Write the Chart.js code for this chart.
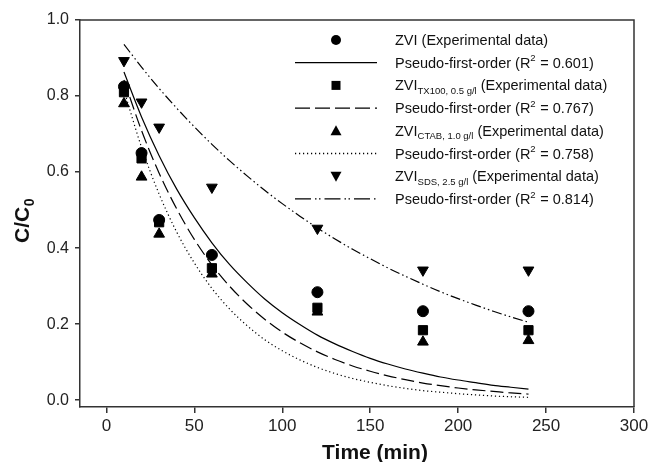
<!DOCTYPE html>
<html><head><meta charset="utf-8">
<script src="https://cdn.jsdelivr.net/npm/chart.js@4.4.1/dist/chart.umd.min.js"></script>
<style>html,body{margin:0;padding:0;background:#fff}#wrap{width:656px;height:462px;position:relative}</style>
</head><body><div id="wrap"><canvas id="c" width="656" height="462"></canvas></div>
<script>
// ---- data ----
const times = [10, 20, 30, 60, 120, 180, 240];
const zvi      = [0.825, 0.650, 0.474, 0.382, 0.284, 0.234, 0.234];
const zviTX100 = [0.810, 0.636, 0.468, 0.347, 0.243, 0.184, 0.184];
const zviCTAB  = [0.780, 0.587, 0.437, 0.332, 0.232, 0.153, 0.157];
const zviSDS   = [0.893, 0.784, 0.718, 0.560, 0.452, 0.342, 0.342];

const fitTimes = [10,20,30,40,50,60,70,80,90,100,110,120,130,140,150,160,170,180,190,200,210,220,230,240];
const fitZVI   = [0.863,0.745,0.643,0.555,0.480,0.414,0.357,0.309,0.266,0.230,0.199,0.171,0.148,0.128,0.110,0.095,0.082,0.071,0.061,0.053,0.046,0.039,0.034,0.029];
const fitTX100 = [0.842,0.709,0.597,0.503,0.423,0.356,0.300,0.253,0.213,0.179,0.151,0.127,0.107,0.090,0.076,0.064,0.054,0.045,0.038,0.032,0.027,0.023,0.019,0.016];
const fitCTAB  = [0.815,0.665,0.542,0.442,0.361,0.294,0.240,0.196,0.159,0.130,0.106,0.086,0.070,0.057,0.047,0.038,0.031,0.025,0.021,0.017,0.014,0.011,0.009,0.0075];
const fitSDS   = [0.936,0.876,0.820,0.768,0.719,0.673,0.630,0.590,0.552,0.517,0.484,0.453,0.424,0.397,0.372,0.348,0.326,0.305,0.285,0.267,0.250,0.234,0.219,0.205];

const xTicks = [0, 50, 100, 150, 200, 250, 300];
const yTicks = [0.0, 0.2, 0.4, 0.6, 0.8, 1.0];

const xTitle = 'Time (min)';
const yTitleMain = 'C/C';
const yTitleSub = '0';

// legend rows: rich text parts
const legendRows = [
  {mark:'circle', parts:[['ZVI (Experimental data)','n']]},
  {line:'solid',  parts:[['Pseudo-first-order (R','n'],['2','sup'],[' = 0.601)','n']]},
  {mark:'square', parts:[['ZVI','n'],['TX100, 0.5 g/l','sub'],[' (Experimental data)','n']]},
  {line:'dash',   parts:[['Pseudo-first-order (R','n'],['2','sup'],[' = 0.767)','n']]},
  {mark:'tri',    parts:[['ZVI','n'],['CTAB, 1.0 g/l','sub'],[' (Experimental data)','n']]},
  {line:'dot',    parts:[['Pseudo-first-order (R','n'],['2','sup'],[' = 0.758)','n']]},
  {mark:'tridown',parts:[['ZVI','n'],['SDS, 2.5 g/l','sub'],[' (Experimental data)','n']]},
  {line:'dashdot',parts:[['Pseudo-first-order (R','n'],['2','sup'],[' = 0.814)','n']]}
];

const FONT = "'Liberation Sans', Arial, Helvetica, sans-serif";
const INK = '#111';
const AXIS = '#333';

const pts = (xs, ys) => xs.map((x, i) => ({x: x, y: ys[i]}));

const DASH = {solid: [], dash: [13, 5], dot: [1.2, 2.8], dashdot: [10, 3, 1.5, 3, 1.5, 3]};
const LEG_DASH = {solid: [], dash: [15, 5], dot: [1.2, 2.8], dashdot: [16, 4, 1.5, 2.5, 1.5, 4]};

function scatterDs(label, ys, style, rot) {
  return {type:'scatter', label, data: pts(times, ys), showLine:false,
    pointStyle: style, pointRotation: rot || 0,
    pointRadius: style === 'circle' ? 5.5 : (style === 'rect' ? 6.5 : 6.2),
    pointBackgroundColor:'#000', pointBorderColor:'#000', pointBorderWidth:1, order:0};
}
function lineDs(label, ys, dash) {
  return {type:'line', label, data: pts(fitTimes, ys), showLine:true, pointRadius:0,
    borderColor:'#000', borderWidth:1.2, borderDash: DASH[dash], tension:0.4,
    cubicInterpolationMode:'monotone', fill:false, order:1};
}

const framePlugin = {
  id:'frame',
  afterDraw(chart) {
    const ctx = chart.ctx, a = chart.chartArea;
    ctx.save();
    ctx.strokeStyle = AXIS; ctx.lineWidth = 1.5;
    ctx.beginPath();
    ctx.moveTo(a.left, a.top); ctx.lineTo(a.right, a.top); ctx.lineTo(a.right, a.bottom);
    ctx.stroke();

    // axis titles
    ctx.fillStyle = INK;
    ctx.font = 'bold 21px ' + FONT;
    ctx.textAlign = 'center'; ctx.textBaseline = 'alphabetic';
    ctx.fillText(xTitle, 375, 459);

    ctx.save();
    ctx.translate(29, 221);
    ctx.rotate(-Math.PI / 2);
    ctx.font = 'bold 21px ' + FONT;
    const w1 = ctx.measureText(yTitleMain).width;
    ctx.font = 'bold 14px ' + FONT;
    const w2 = ctx.measureText(yTitleSub).width;
    const start = -(w1 + w2) / 2;
    ctx.textAlign = 'left';
    ctx.font = 'bold 21px ' + FONT;
    ctx.fillText(yTitleMain, start, 0);
    ctx.font = 'bold 14px ' + FONT;
    ctx.fillText(yTitleSub, start + w1 + 0.5, 5);
    ctx.restore();

    // legend
    const x0 = 295, x1 = 377, xc = 336, tx = 395;
    legendRows.forEach((row, i) => {
      const y = 40 + i * 22.7;
      ctx.save();
      ctx.fillStyle = '#000'; ctx.strokeStyle = '#000';
      if (row.mark) {
        ctx.beginPath();
        if (row.mark === 'circle') { ctx.arc(xc, y, 5, 0, Math.PI * 2); }
        else if (row.mark === 'square') { ctx.rect(xc - 4.5, y - 4.5, 9, 9); }
        else if (row.mark === 'tri') { ctx.moveTo(xc, y - 5.5); ctx.lineTo(xc + 5.5, y + 4.5); ctx.lineTo(xc - 5.5, y + 4.5); ctx.closePath(); }
        else { ctx.moveTo(xc, y + 5.5); ctx.lineTo(xc + 5.5, y - 4.5); ctx.lineTo(xc - 5.5, y - 4.5); ctx.closePath(); }
        ctx.fill();
      } else {
        ctx.lineWidth = 1.3;
        ctx.setLineDash(LEG_DASH[row.line]);
        ctx.beginPath(); ctx.moveTo(x0, y); ctx.lineTo(x1, y); ctx.stroke();
      }
      ctx.restore();
      // text
      let x = tx;
      ctx.textAlign = 'left'; ctx.textBaseline = 'middle'; ctx.fillStyle = INK;
      row.parts.forEach(([t, kind]) => {
        let dy = 0;
        if (kind === 'n') { ctx.font = '14.5px ' + FONT; }
        else if (kind === 'sup') { ctx.font = '9.5px ' + FONT; dy = -5; }
        else { ctx.font = '9.5px ' + FONT; dy = 5; }
        ctx.fillText(t, x, y + 1 + dy);
        x += ctx.measureText(t).width + (kind === 'sup' ? 0.5 : 0);
      });
    });
    ctx.restore();
  }
};

new Chart(document.getElementById('c'), {
  data: {
    datasets: [
      scatterDs('ZVI (Experimental data)', zvi, 'circle'),
      scatterDs('ZVI TX100 (Experimental data)', zviTX100, 'rect'),
      scatterDs('ZVI CTAB (Experimental data)', zviCTAB, 'triangle'),
      scatterDs('ZVI SDS (Experimental data)', zviSDS, 'triangle', 180),
      lineDs('Pseudo-first-order ZVI', fitZVI, 'solid'),
      lineDs('Pseudo-first-order TX100', fitTX100, 'dash'),
      lineDs('Pseudo-first-order CTAB', fitCTAB, 'dot'),
      lineDs('Pseudo-first-order SDS', fitSDS, 'dashdot')
    ]
  },
  options: {
    responsive:false, animation:false, devicePixelRatio:1,
    layout:{padding:{top:20, right:22, left:0, bottom:0}},
    plugins:{legend:{display:false}, tooltip:{enabled:false}, title:{display:false}},
    scales:{
      x:{type:'linear', position:'bottom', min:-15, max:300,
        afterBuildTicks(s){ s.ticks = xTicks.map(v => ({value:v})); },
        afterFit(s){ s.height = 55; },
        ticks:{font:{family:FONT, size:17}, color:'#222', padding:3, maxRotation:0,
          callback:(v) => String(v)},
        grid:{display:true, drawOnChartArea:false, drawTicks:true, tickLength:6, color:AXIS, lineWidth:1.5},
        border:{display:true, color:AXIS, width:1.5}
      },
      y:{type:'linear', position:'left', min:-0.018, max:1.0,
        afterBuildTicks(s){ s.ticks = yTicks.map(v => ({value:v})); },
        afterFit(s){ s.width = 80; },
        ticks:{font:{family:FONT, size:16}, color:'#222', padding:6,
          callback:(v) => Number(v).toFixed(1)},
        grid:{display:true, drawOnChartArea:false, drawTicks:true, tickLength:5, color:AXIS, lineWidth:1.5},
        border:{display:true, color:AXIS, width:1.5}
      }
    }
  },
  plugins:[framePlugin]
});
</script></body></html>
